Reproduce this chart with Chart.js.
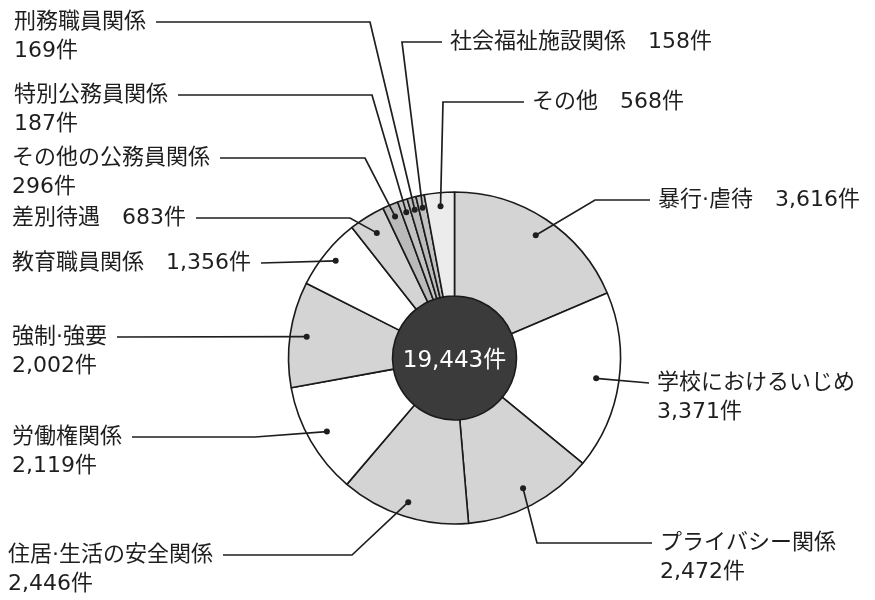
<!DOCTYPE html>
<html><head><meta charset="utf-8">
<script src="https://cdn.jsdelivr.net/npm/chart.js@4.4.1/dist/chart.umd.min.js"></script>
<style>html,body{margin:0;padding:0;background:#fff}canvas{display:block}</style>
</head><body>
<canvas id="c" width="875" height="600"></canvas>
<script>
// ---- data ----
const categories = ["暴行·虐待","学校におけるいじめ","プライバシー関係","住居·生活の安全関係","労働権関係","強制·強要","教育職員関係","差別待遇","その他の公務員関係","特別公務員関係","刑務職員関係","社会福祉施設関係","その他"];
const counts = [3616,3371,2472,2446,2119,2002,1356,683,296,187,169,158,568];
const totalCount = [19443];
const valueLabels = ["3,616件","3,371件","2,472件","2,446件","2,119件","2,002件","1,356件","683件","296件","187件","169件","158件","568件"];
const totalLabel = "19,443件";

// ---- styles / layout ----
const sliceColors = ["#d4d4d4","#ffffff","#d4d4d4","#d4d4d4","#ffffff","#d4d4d4","#ffffff","#d4d4d4","#bababa","#c2c2c2","#bababa","#c2c2c2","#ececec"];
// tx,ty: text position; two: value on second line; side: text left/right of line; elbow: x where line bends (null = direct); dr: dot position fraction across the ring
const labelLayout = [
  {tx:658, ty:200, two:false, side:"right", elbow:595, dr:0.82},
  {tx:657, ty:383, two:true,  side:"right", elbow:null, dr:0.78},
  {tx:660, ty:543, two:true,  side:"right", elbow:537, dr:0.82},
  {tx:8,   ty:555, two:true,  side:"left",  elbow:352, dr:0.86},
  {tx:12,  ty:437, two:true,  side:"left",  elbow:255, dr:0.82},
  {tx:12,  ty:337, two:true,  side:"left",  elbow:null, dr:0.84},
  {tx:12,  ty:263, two:false, side:"left",  elbow:null, dr:0.88},
  {tx:12,  ty:218, two:false, side:"left",  elbow:350, dr:0.82},
  {tx:12,  ty:158, two:true,  side:"left",  elbow:365, dr:0.88},
  {tx:14,  ty:95,  two:true,  side:"left",  elbow:372, dr:0.88},
  {tx:14,  ty:22,  two:true,  side:"left",  elbow:370, dr:0.88},
  {tx:450, ty:42,  two:false, side:"right", elbow:402, dr:0.88},
  {tx:532, ty:102, two:false, side:"right", elbow:443, dr:0.87}
];
const FONT = '22px "DejaVu Sans", "Noto Sans CJK JP", sans-serif';

const labelPlugin = {
  id: 'labels',
  afterDraw(chart) {
    const ctx = chart.ctx;
    const meta = chart.getDatasetMeta(0);
    ctx.save();
    ctx.font = FONT;
    ctx.textBaseline = 'middle';
    ctx.fillStyle = '#1e1e1e';
    ctx.strokeStyle = '#1e1e1e';
    ctx.lineWidth = 1.7;
    meta.data.forEach((arc, i) => {
      const p = arc.getProps(['startAngle','endAngle','x','y','innerRadius','outerRadius'], true);
      const L = labelLayout[i];
      const mid = (p.startAngle + p.endAngle) / 2;
      const r = p.innerRadius + (p.outerRadius - p.innerRadius) * L.dr;
      const dx = p.x + Math.cos(mid) * r, dy = p.y + Math.sin(mid) * r;
      ctx.textAlign = 'left';
      let line1 = L.two ? categories[i] : categories[i] + '　' + valueLabels[i];
      ctx.fillText(line1, L.tx, L.ty);
      if (L.two) ctx.fillText(valueLabels[i], L.tx, L.ty + 29);
      const w = ctx.measureText(line1).width;
      const sx = L.side === 'left' ? L.tx + w + 10 : L.tx - 8;
      ctx.beginPath();
      ctx.moveTo(sx, L.ty);
      if (L.elbow !== null) ctx.lineTo(L.elbow, L.ty);
      ctx.lineTo(dx, dy);
      ctx.stroke();
      ctx.beginPath();
      ctx.arc(dx, dy, 3, 0, Math.PI * 2);
      ctx.fill();
    });
    const c = chart.getDatasetMeta(1).data[0];
    const cp = c.getProps(['x','y'], true);
    ctx.fillStyle = '#ffffff';
    ctx.textAlign = 'center';
    ctx.font = '23px "DejaVu Sans", "Noto Sans CJK JP", sans-serif';
    ctx.fillText(totalLabel, cp.x, cp.y + 3);
    ctx.restore();
  }
};

new Chart(document.getElementById('c'), {
  type: 'doughnut',
  data: {
    labels: categories,
    datasets: [
      {data: counts, backgroundColor: sliceColors, borderColor: '#1a1a1a', borderWidth: 1.6, weight: 104, hoverOffset: 0, borderAlign: 'center'},
      {data: totalCount, backgroundColor: ['#3b3b3b'], borderColor: '#3b3b3b', borderWidth: 0, weight: 62, hoverOffset: 0}
    ]
  },
  options: {
    responsive: false,
    animation: false,
    cutout: 0,
    radius: 166,
    layout: {padding: {left: 288, right: 254, top: 192, bottom: 76}},
    plugins: {legend: {display: false}, tooltip: {enabled: false}},
    events: []
  },
  plugins: [labelPlugin]
});
</script>
</body></html>
